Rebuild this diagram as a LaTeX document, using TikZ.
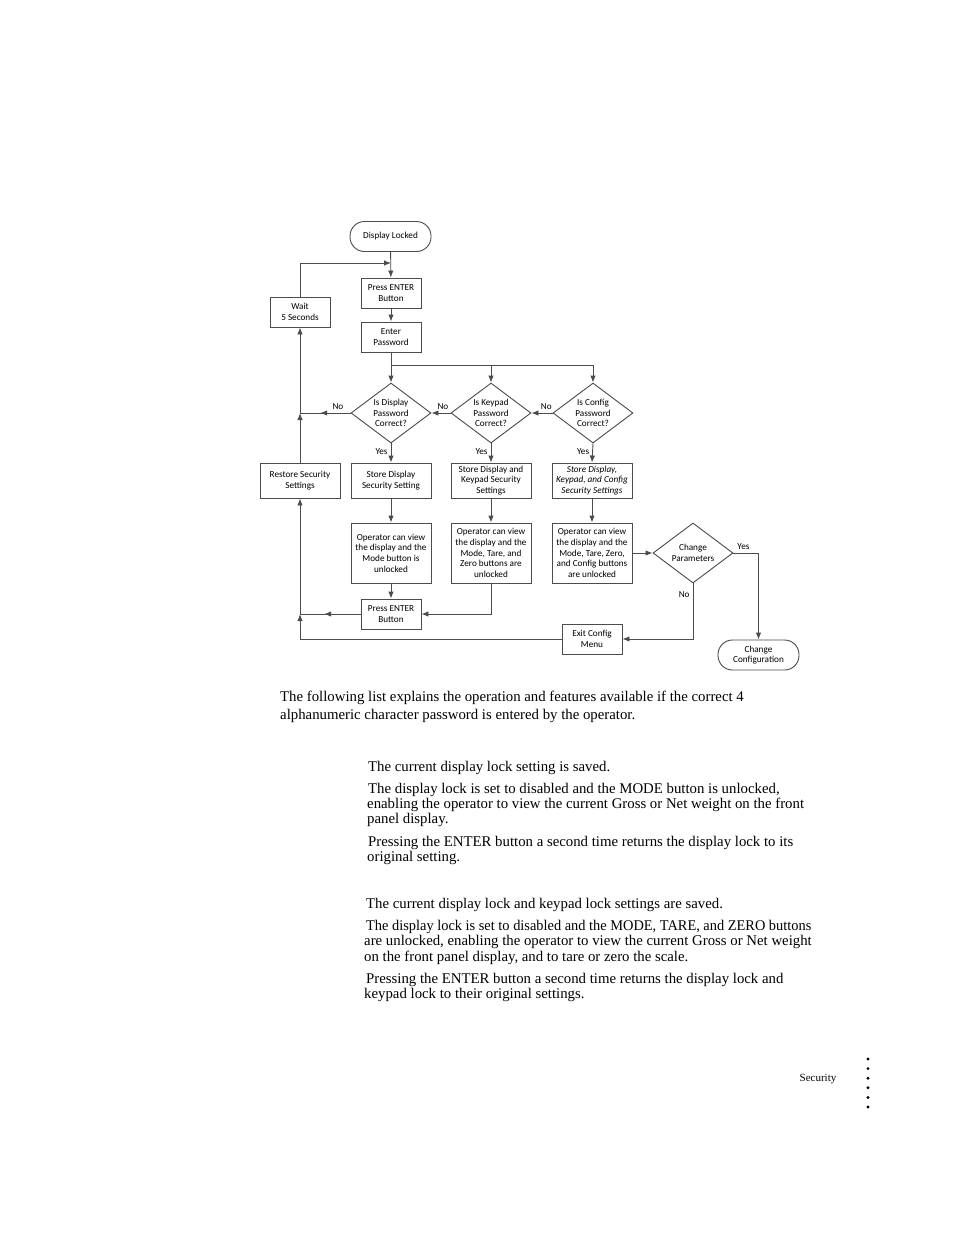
\documentclass[tikz,border=0pt]{standalone}
\usepackage{fontspec}
\usepackage{graphicx}
\setmainfont{Liberation Serif}
\newfontfamily\flowfont{Carlito}
\usetikzlibrary{arrows.meta,shapes.geometric,decorations.markings}

\tikzset{
  line/.style={black!70,line width=0.9pt},
  arr/.style={line,-{Latex[length=7pt,width=5.5pt]}},
  midarr/.style={line,postaction={decorate},decoration={markings,
      mark=at position #1 with {\arrow{Latex[length=7pt,width=5.5pt]}}}},
  flow/.style={draw=black!70,line width=0.9pt,text=black,align=center,
      font=\flowfont\fontsize{9.2}{10.7}\selectfont,inner sep=1pt},
  smallbox/.style={flow,rectangle,minimum width=60pt,minimum height=30pt},
  widebox/.style={flow,rectangle,minimum width=80pt,minimum height=35pt},
  opbox/.style={flow,rectangle,minimum width=80pt,minimum height=60pt},
  term/.style={flow,rectangle,rounded corners=14.5pt,minimum width=81pt,minimum height=30pt},
  decision/.style={flow,diamond,aspect=1.333,inner sep=0pt,minimum width=80pt,minimum height=60pt},
  lbl/.style={text=black,font=\flowfont\fontsize{9.2}{10}\selectfont,inner sep=3pt},
  body/.style={anchor=base west,inner sep=0pt,font=\fontsize{14.8}{15}\selectfont}
}

\begin{document}
\begin{tikzpicture}[x=1pt,y=-1pt]
  \fill[white] (0,0) rectangle (954,1235);
  \useasboundingbox (0,0) rectangle (954,1235);

  % flowchart
  \node[term] (locked) at (390.5,236.5) {Display Locked};
  \node[smallbox] (press1) at (391,293) {Press ENTER\\Button};
  \node[smallbox] (enterpw) at (391,337) {Enter\\Password};
  \node[smallbox] (wait) at (300,312) {Wait\\5 Seconds};

  \node[decision] (qdisp) at (391,413) {Is Display\\Password\\Correct?};
  \node[decision] (qkey) at (491,413) {Is Keypad\\Password\\Correct?};
  \node[decision] (qcfg) at (593,413) {Is Config\\Password\\Correct?};

  \node[widebox] (restore) at (300,480.5) {Restore Security\\Settings};
  \node[widebox] (sdisp) at (391,480.5) {Store Display\\Security Setting};
  \node[widebox] (skey) at (491,480.5) {Store Display and\\Keypad Security\\Settings};
  \node[widebox] (scfg) at (592,480.5) {\itshape Store Display,\\\itshape Keypad, and Config\\\itshape Security Settings};

  \node[opbox] (odisp) at (391,553) {Operator can view\\the display and the\\Mode button is\\unlocked};
  \node[opbox] (okey) at (491,553) {Operator can view\\the display and the\\Mode, Tare, and\\Zero buttons are\\unlocked};
  \node[opbox] (ocfg) at (592,553) {Operator can view\\the display and the\\Mode, Tare, Zero,\\and Config buttons\\are unlocked};
  \node[decision] (qchange) at (693,553) {Change\\Parameters};

  \node[smallbox] (press2) at (391,614) {Press ENTER\\Button};
  \node[smallbox] (exitcfg) at (592,639) {Exit Config\\Menu};
  \node[term] (chgcfg) at (758.5,655) {Change\\Configuration};

  \coordinate (jtop) at (391,263);
  \coordinate (bus) at (391,365);
  \coordinate (jl) at (300,413);
  \coordinate (jb) at (300,614);

  % connectors
  \draw[arr] (locked) -- (press1);
  \draw[arr] (press1) -- (enterpw);
  \draw[arr] (wait.north) |- (jtop);
  \draw[arr] (enterpw) -- (qdisp);
  \draw[arr] (bus) -| (qkey.north);
  \draw[arr] (bus) -| (qcfg.north);

  \draw[arr] (qcfg.west) -- node[lbl,above,pos=0.3] {No} (qkey.east);
  \draw[arr] (qkey.west) -- node[lbl,above,pos=0.4] {No} (qdisp.east);
  \draw[midarr=0.6] (qdisp.west) -- node[lbl,above,pos=0.25] {No} (jl);
  \draw[arr] (restore.north) -- (jl);
  \draw[arr] (jl) -- (wait.south);

  \draw[arr] (qdisp.south) -- node[lbl,left,pos=0.4] {Yes} (sdisp.north);
  \draw[arr] (qkey.south) -- node[lbl,left,pos=0.4] {Yes} (skey.north);
  \draw[arr] (qcfg.south) -- node[lbl,left,pos=0.4] {Yes} (scfg.north);

  \draw[arr] (sdisp) -- (odisp);
  \draw[arr] (skey) -- (okey);
  \draw[arr] (scfg) -- (ocfg);

  \draw[arr] (odisp) -- (press2);
  \draw[arr] (okey.south) |- (press2.east);
  \draw[midarr=0.6] (press2.west) -- (jb);
  \draw[arr] (exitcfg.west) -| (jb);
  \draw[arr] (jb) -- (restore.south);

  \draw[arr] (ocfg) -- (qchange);
  \draw[arr] (qchange.east) -| node[lbl,above,pos=0.2] {Yes} (chgcfg.north);
  \draw[arr] (qchange.south) |- node[lbl,left,pos=0.1] {No} (exitcfg.east);

  % text below
  \node[body] (intro1) at (280,701) {The following list explains the operation and features available if the correct 4};
  \node[body] (intro2) at (280,719) {alphanumeric character password is entered by the operator.};
  \foreach \x/\y/\t in {368/771/{The current display lock setting is saved.},
      368/793/{The display lock is set to disabled and the MODE button is unlocked,},
      367/808/{enabling the operator to view the current Gross or Net weight on the front},
      367/823/{panel display.},
      368/846/{Pressing the ENTER button a second time returns the display lock to its},
      367/861/{original setting.},
      366/908/{The current display lock and keypad lock settings are saved.},
      366/930/{\scalebox{0.972}[1]{The display lock is set to disabled and the MODE, TARE, and ZERO buttons}},
      364/945/{are unlocked, enabling the operator to view the current Gross or Net weight},
      364/961/{on the front panel display, and to tare or zero the scale.},
      366/983/{Pressing the ENTER button a second time returns the display lock and},
      364/998/{keypad lock to their original settings.}}
    \node[body] at (\x,\y) {\t};

  \node[font=\fontsize{11}{12}\selectfont,inner sep=0pt] (footer) at (818,1079) {Security};
  \foreach \k in {0,...,5}
    \fill[black] (868,1059+9.6*\k) circle (1.6);
\end{tikzpicture}
\end{document}
